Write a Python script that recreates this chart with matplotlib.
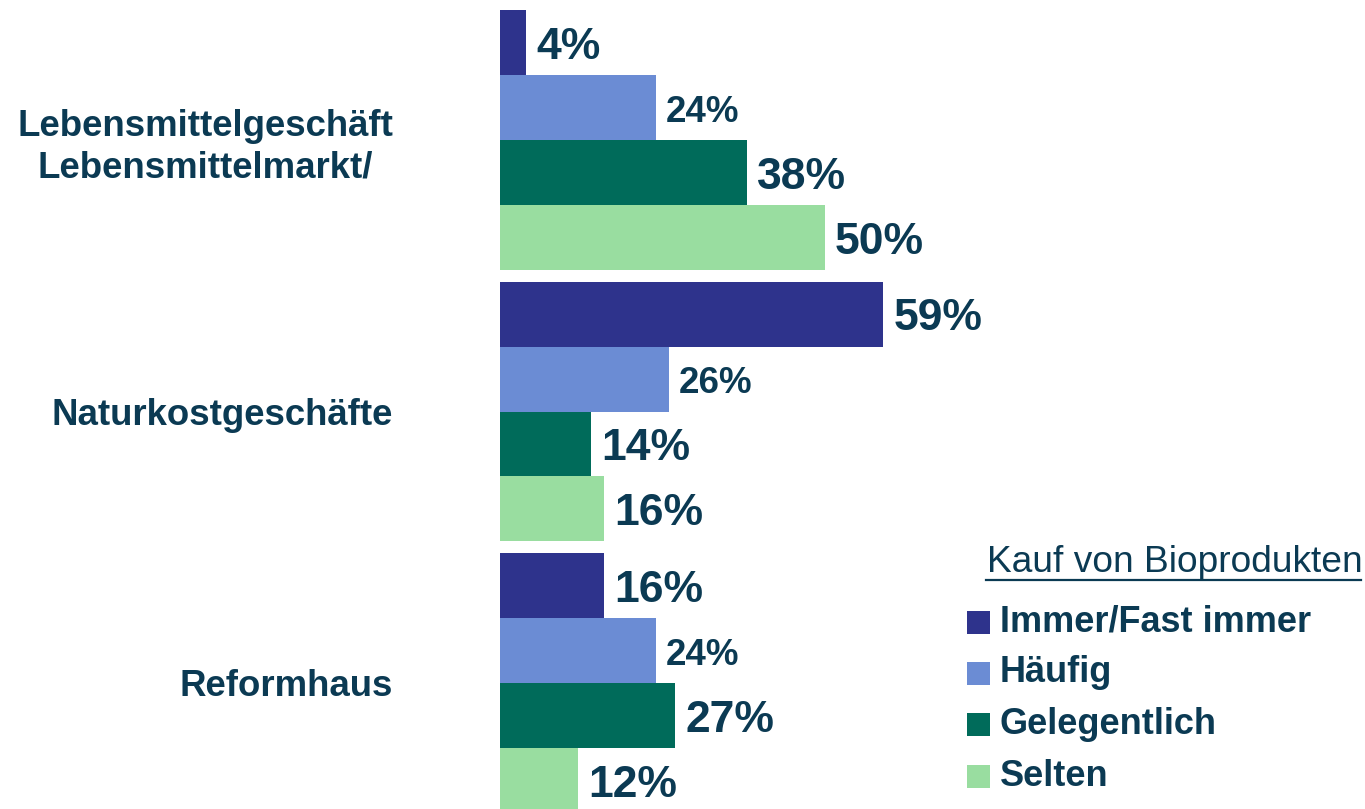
import matplotlib
matplotlib.use("Agg")
import matplotlib.pyplot as plt
from matplotlib.patches import Rectangle
from matplotlib.lines import Line2D
import numpy as np

categories = ["Lebensmittelgeschäft\nLebensmittelmarkt/", "Naturkostgeschäfte", "Reformhaus"]
series = ["Immer/Fast immer", "Häufig", "Gelegentlich", "Selten"]
values = [
    [4, 59, 16],   # Immer/Fast immer
    [24, 26, 24],  # Häufig
    [38, 14, 27],  # Gelegentlich
    [50, 16, 12],  # Selten
]
colors = ["#2E338C", "#6B8CD4", "#006B5A", "#99DDA0"]
label_sizes = [32, 26.5, 32, 32]
legend_title = "Kauf von Bioprodukten"
text_color = "#0B3A53"

plt.rcParams['font.family'] = ['Liberation Sans', 'DejaVu Sans']

W, H = 1365, 809
fig = plt.figure(figsize=(W / 100, H / 100), dpi=100)
ax = fig.add_axes([500 / W, 0, 1 - 500 / W, 1])

bar_h = 65 / 271.5
n = len(series)
y0 = np.arange(len(categories))
for j, (name, vals, col) in enumerate(zip(series, values, colors)):
    ys = y0 + (j - (n - 1) / 2) * bar_h
    bars = ax.barh(ys, vals, height=bar_h, color=col, edgecolor='none', label=name)
    for b, v in zip(bars, vals):
        ax.annotate(f"{v}%", xy=(b.get_width(), b.get_y() + b.get_height() / 2),
                    xytext=(7.5, -3.5), textcoords='offset points',
                    ha='left', va='center', fontsize=label_sizes[j],
                    fontweight='bold', color=text_color)

ax.set_xlim(0, (W - 500) / 6.49)
ax.set_ylim((H - 140) / 271.5, -140 / 271.5)
ax.set_yticks(y0)
ax.set_yticklabels(categories, fontsize=26.4, fontweight='bold', color=text_color,
                   linespacing=1.25, multialignment='center')
ax.tick_params(axis='y', length=0, pad=77)
ax.set_xticks([])
for s in ax.spines.values():
    s.set_visible(False)

# manual legend
fig.text(987 / W, 1 - 563 / H, legend_title, fontsize=26.7, color=text_color,
         ha='left', va='center')
fig.add_artist(Line2D([986 / W, 1361 / W], [1 - 580 / H, 1 - 580 / H],
                      color=text_color, lw=1.6, transform=fig.transFigure))
row_y = [622, 673, 724, 776]
for name, col, ry in zip(series, colors, row_y):
    fig.add_artist(Rectangle((967 / W, 1 - (ry + 11.5) / H), 23 / W, 23 / H,
                             facecolor=col, edgecolor='none',
                             transform=fig.transFigure))
    fig.text(1000 / W, 1 - ry / H, name, fontsize=26, fontweight='bold',
             color=text_color, ha='left', va='center')

fig.savefig("out.png", dpi=100)
